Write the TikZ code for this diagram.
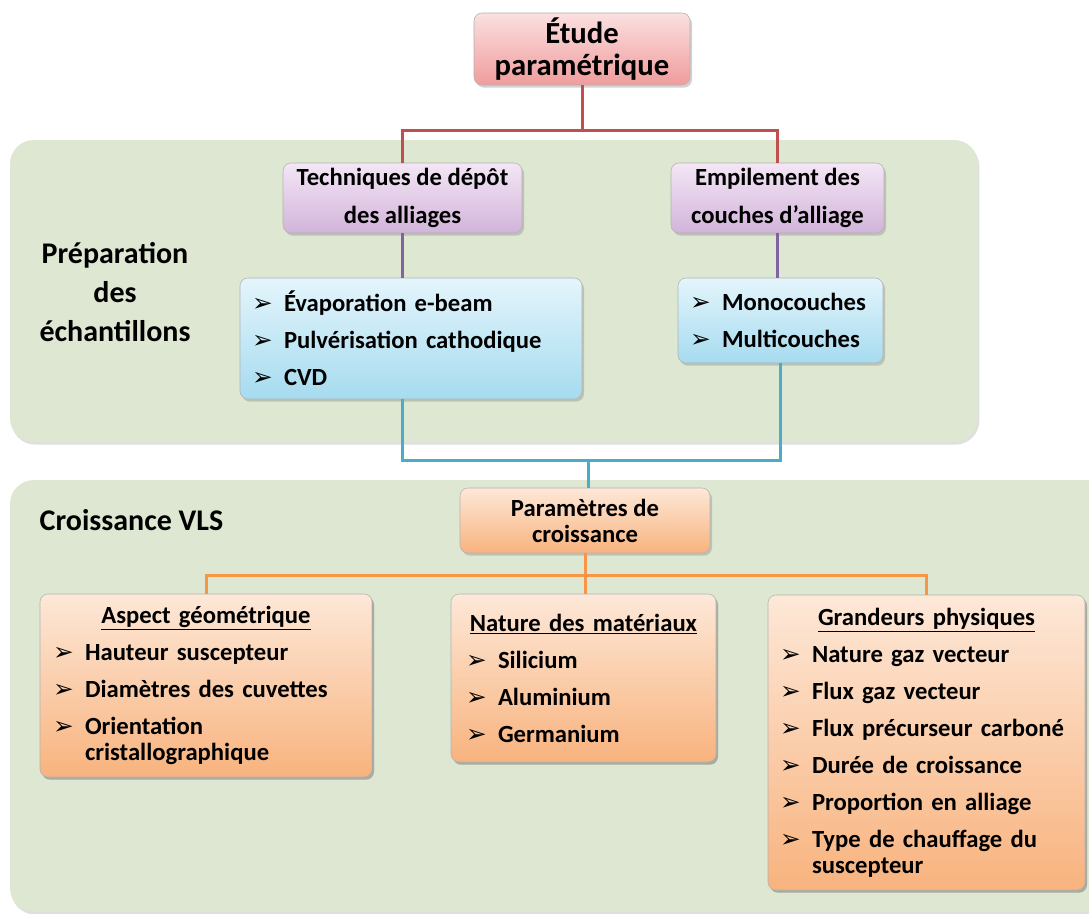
\documentclass[tikz,border=0pt]{standalone}
\usepackage{fontspec}
\setmainfont{Carlito}
\newfontfamily\puces{DejaVu Sans}
\usetikzlibrary{shadows}
\definecolor{fondvert}{HTML}{DEE7D1}
\definecolor{roseH}{HTML}{FBE0E0}
\definecolor{roseB}{HTML}{F09C9C}
\definecolor{violetH}{HTML}{F3E6F5}
\definecolor{violetB}{HTML}{D2B4DA}
\definecolor{bleuH}{HTML}{E4F5FC}
\definecolor{bleuB}{HTML}{A6DBEF}
\definecolor{orangeH}{HTML}{FDE8D8}
\definecolor{orangeB}{HTML}{F8B37E}
\definecolor{traitrouge}{HTML}{C0504D}
\definecolor{traitviolet}{HTML}{8064A2}
\definecolor{traitcyan}{HTML}{4BACC6}
\definecolor{traitorange}{HTML}{F79646}
\newcommand{\fl}{\makebox[24pt][l]{\puces\fontsize{18.5}{18.5}\selectfont ➢}}
\newcommand{\entete}[1]{\makebox[\linewidth][c]{\underline{#1}}}
\newcommand{\ecart}{8.25pt}
\tikzset{
  panneau/.style={fill=fondvert, rounded corners=18pt, drop shadow={opacity=0.25, shadow xshift=1pt, shadow yshift=-2pt}},
  boite/.style={draw=black!30, rounded corners=6pt, align=center, inner sep=0pt,
    font=\bfseries\fontsize{18.5}{19.5}\selectfont,
    drop shadow={opacity=0.35, shadow xshift=1.5pt, shadow yshift=-2pt}},
  liste/.style={boite, align=left},
  rose/.style={boite, top color=roseH, bottom color=roseB},
  violet/.style={boite, top color=violetH, bottom color=violetB},
  bleu/.style={liste, top color=bleuH, bottom color=bleuB},
  orangebox/.style={boite, top color=orangeH, bottom color=orangeB},
  titre/.style={font=\bfseries\fontsize{22.5}{29.25}\selectfont, align=center},
  lien/.style={line width=2.25pt},
}
\begin{document}
\begin{tikzpicture}[x=0.75pt, y=-0.75pt]
  \useasboundingbox[fill=white] (0,0) rectangle (1089,914);
  % fonds verts
  \fill[panneau] (10,140) rectangle (978,442);
  \fill[panneau] (10,480) rectangle (1110,912);
  \node[titre] (prep) at (115,292) {Préparation\\des\\échantillons};
  \node[titre, anchor=west] (vls) at (35,520) {Croissance VLS};

  % boites
  \node[rose, minimum width=162pt, minimum height=54pt,
        font=\bfseries\fontsize{23}{24}\selectfont] (etude) at (582,49) {Étude\\paramétrique};
  \node[violet, minimum width=179.25pt, minimum height=52.5pt,
        font=\bfseries\fontsize{18.5}{28.5}\selectfont] (tech) at (402.5,198) {Techniques de dépôt\\des alliages};
  \node[violet, minimum width=159.75pt, minimum height=52.5pt,
        font=\bfseries\fontsize{18.5}{28.5}\selectfont] (empil) at (777.5,198) {Empilement des\\couches d’alliage};
  \node[bleu, text width=238.5pt, inner xsep=9pt, minimum height=90.75pt] (evap) at (411,338.5)
    {\fl Évaporation e-beam\\[\ecart]
     \fl Pulvérisation cathodique\\[\ecart]
     \fl CVD};
  \node[bleu, text width=135.75pt, inner xsep=9pt, minimum height=63.75pt] (mono) at (780.5,320.5)
    {\fl Monocouches\\[\ecart]
     \fl Multicouches};
  \node[orangebox, minimum width=187.5pt, minimum height=48.75pt] (param) at (585,520.5)
    {Paramètres de\\croissance};
  \node[orangebox, liste, text width=229.5pt, inner xsep=9.75pt, minimum height=137.25pt] (aspect) at (206,685.5)
    {\entete{Aspect géométrique}\\[\ecart]
     \fl Hauteur suscepteur\\[\ecart]
     \fl Diamètres des cuvettes\\[\ecart]
     \fl Orientation\\
     \hspace*{24pt}cristallographique};
  \node[orangebox, liste, text width=176.25pt, inner xsep=11.25pt, minimum height=126pt] (nature) at (583.5,678)
    {\entete{Nature des matériaux}\\[\ecart]
     \fl Silicium\\[\ecart]
     \fl Aluminium\\[\ecart]
     \fl Germanium};
  \node[orangebox, liste, text width=219.75pt, inner xsep=9pt, minimum height=221.25pt] (grandeurs) at (926.5,742.5)
    {\entete{Grandeurs physiques}\\[\ecart]
     \fl Nature gaz vecteur\\[\ecart]
     \fl Flux gaz vecteur\\[\ecart]
     \fl Flux précurseur carboné\\[\ecart]
     \fl Durée de croissance\\[\ecart]
     \fl Proportion en alliage\\[\ecart]
     \fl Type de chauffage du\\
     \hspace*{24pt}suscepteur};

  % liaisons
  \coordinate (j1) at (582,130);
  \coordinate (j2) at (588,460);
  \coordinate (j3) at (585,575);
  \draw[lien, traitrouge] (etude.south) -- (j1);
  \draw[lien, traitrouge] (tech.north) |- (j1) -| (empil.north);
  \draw[lien, traitviolet] (tech.south) -- (tech.south |- evap.north);
  \draw[lien, traitviolet] (empil.south) -- (empil.south |- mono.north);
  \draw[lien, traitcyan] (tech.south |- evap.south) |- (j2) -| (mono.south);
  \draw[lien, traitcyan] (j2) -- (j2 |- param.north);
  \draw[lien, traitorange] (param.south) -- (j3);
  \draw[lien, traitorange] (aspect.north) |- (j3) -| (grandeurs.north);
  \draw[lien, traitorange] (j3) -- (j3 |- nature.north);
\end{tikzpicture}
\end{document}
